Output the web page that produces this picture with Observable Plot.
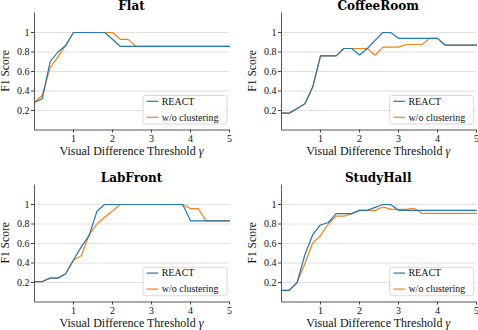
<!DOCTYPE html>
<html>
<head>
<meta charset="utf-8">
<script src="https://cdn.jsdelivr.net/npm/d3@7"></script>
<script src="https://cdn.jsdelivr.net/npm/@observablehq/plot@0.6"></script>
<style>
  html, body { margin: 0; padding: 0; background: #fff; }
  #wrap { position: relative; width: 478px; height: 330px; overflow: hidden; background: #fff; }
  #wrap svg { position: absolute; max-width: none; }
</style>
</head>
<body>
<div id="wrap"></div>
<script>
// ---- data ----
const gamma = [0, 0.2, 0.4, 0.6, 0.8, 1, 1.2, 1.4, 1.6, 1.8, 2, 2.2, 2.4, 2.6, 2.8, 3, 3.2, 3.4, 3.6, 3.8, 4, 4.2, 4.4, 4.6, 4.8, 5];

const titles = ["Flat", "CoffeeRoom", "LabFront", "StudyHall"];
const seriesNames = ["REACT", "w/o clustering"];
const xTicks = [1, 2, 3, 4, 5];
const yTicks = [0.2, 0.4, 0.6, 0.8, 1];
const xLabel = "Visual Difference Threshold ";
const xLabelSymbol = "γ";
const yLabel = "F1 Score";

const flatReact = [0.285, 0.32, 0.70, 0.80, 0.867, 1, 1, 1, 1, 1, 0.93, 0.857, 0.857, 0.857, 0.857, 0.857, 0.857, 0.857, 0.857, 0.857, 0.857, 0.857, 0.857, 0.857, 0.857, 0.857];
const flatWo    = [0.285, 0.357, 0.64, 0.75, 0.867, 1, 1, 1, 1, 1, 1, 0.93, 0.93, 0.857, 0.857, 0.857, 0.857, 0.857, 0.857, 0.857, 0.857, 0.857, 0.857, 0.857, 0.857, 0.857];

const coffeeReact = [0.173, 0.173, 0.22, 0.27, 0.44, 0.76, 0.76, 0.76, 0.836, 0.836, 0.77, 0.836, 0.92, 1, 1, 0.94, 0.94, 0.94, 0.94, 0.94, 0.94, 0.87, 0.87, 0.87, 0.87, 0.87];
const coffeeWo    = [0.173, 0.173, 0.22, 0.27, 0.44, 0.76, 0.76, 0.76, 0.836, 0.836, 0.836, 0.836, 0.767, 0.85, 0.85, 0.85, 0.877, 0.877, 0.877, 0.94, 0.94, 0.87, 0.87, 0.87, 0.87, 0.87];

const labReact = [0.21, 0.21, 0.245, 0.245, 0.29, 0.43, 0.565, 0.68, 0.93, 1, 1, 1, 1, 1, 1, 1, 1, 1, 1, 1, 0.833, 0.833, 0.833, 0.833, 0.833, 0.833];
const labWo    = [0.21, 0.21, 0.245, 0.245, 0.29, 0.43, 0.475, 0.69, 0.80, 0.87, 0.934, 1, 1, 1, 1, 1, 1, 1, 1, 1, 0.958, 0.958, 0.833, 0.833, 0.833, 0.833];

const studyReact = [0.12, 0.12, 0.2, 0.485, 0.69, 0.79, 0.815, 0.906, 0.906, 0.906, 0.94, 0.94, 0.97, 1, 1, 0.94, 0.94, 0.94, 0.94, 0.94, 0.94, 0.94, 0.94, 0.94, 0.94, 0.94];
const studyWo    = [0.12, 0.12, 0.2, 0.395, 0.605, 0.68, 0.80, 0.88, 0.88, 0.906, 0.94, 0.94, 0.94, 0.975, 0.95, 0.95, 0.95, 0.96, 0.91, 0.91, 0.91, 0.91, 0.91, 0.91, 0.91, 0.91];

const colors = ["#1f77b4", "#ff7f0e"];

// ---- layout ----
const serif = "'Liberation Serif', 'Times New Roman', serif";
const PW = 239, PH = 165, ML = 34, MR = 10, MT = 12.5, MB = 35.5;
const panels = [
  {title: titles[0], react: flatReact,   wo: flatWo,   left: 0,     top: 0},
  {title: titles[1], react: coffeeReact, wo: coffeeWo, left: 246.7, top: 0},
  {title: titles[2], react: labReact,    wo: labWo,    left: 0,     top: 171.8},
  {title: titles[3], react: studyReact,  wo: studyWo,  left: 246.7, top: 171.8}
];

const wrap = document.getElementById("wrap");
const fmt = d => d === 1 ? "1" : d3.format(".1f")(d);

for (const p of panels) {
  const chart = Plot.plot({
    width: PW, height: PH,
    marginLeft: ML, marginRight: MR, marginTop: MT, marginBottom: MB,
    x: {domain: [0, 5], label: null},
    y: {domain: [0, 1.2], label: null},
    style: {fontFamily: serif, fontSize: "10px", background: "transparent", color: "#111"},
    marks: [
      Plot.gridY(yTicks, {stroke: "#dcdcdc", strokeOpacity: 1, strokeWidth: 0.9}),
      Plot.line(gamma, {x: gamma, y: p.wo, stroke: colors[1], strokeWidth: 1.2}),
      Plot.line(gamma, {x: gamma, y: p.react, stroke: colors[0], strokeWidth: 1.2}),
      Plot.ruleX([0], {stroke: "#444", strokeWidth: 0.9}),
      Plot.ruleY([0], {stroke: "#444", strokeWidth: 0.9}),
      Plot.axisX(xTicks, {tickSize: 3, tickPadding: 1.5, stroke: "#444", fill: "#111", fontSize: 10}),
      Plot.axisY(yTicks, {tickSize: 3, tickPadding: 2, stroke: "#444", fill: "#111", fontSize: 10, tickFormat: fmt})
    ]
  });
  chart.style.left = p.left + "px";
  chart.style.top = p.top + "px";
  wrap.appendChild(chart);
}

// ---- overlay: titles, axis labels, legends ----
const ov = d3.select(wrap).append("svg")
  .attr("width", 478).attr("height", 330)
  .style("left", "0px").style("top", "0px");

for (const p of panels) {
  const ax = p.left + ML, ar = p.left + PW - MR;
  const pt = p.top + MT, pb = p.top + PH - MB;
  const cx = (ax + ar) / 2, cy = (pt + pb) / 2;

  ov.append("text")
    .attr("x", cx).attr("y", pt - 2.8)
    .attr("text-anchor", "middle")
    .style("font-family", "'DejaVu Serif', serif")
    .style("font-weight", "bold").style("font-size", "12px")
    .attr("fill", "#000")
    .text(p.title);

  const xl = ov.append("text")
    .attr("x", cx).attr("y", pb + 25.4)
    .attr("text-anchor", "middle")
    .style("font-family", serif).style("font-size", "12px")
    .attr("fill", "#111");
  xl.append("tspan").text(xLabel);
  xl.append("tspan").style("font-style", "italic").text(xLabelSymbol);

  ov.append("text")
    .attr("transform", `translate(${ax - 24.6},${cy}) rotate(-90)`)
    .attr("text-anchor", "middle")
    .style("font-family", serif).style("font-size", "11.6px")
    .attr("fill", "#111")
    .text(yLabel);

  // legend
  const lg = ov.append("g").attr("transform", `translate(${ax + 109},${pt + 83})`);
  lg.append("rect")
    .attr("x", 0).attr("y", 0).attr("width", 84).attr("height", 28.5)
    .attr("rx", 2.5).attr("fill", "rgba(255,255,255,0.85)")
    .attr("stroke", "#d4d4d4").attr("stroke-width", 0.9);
  seriesNames.forEach((name, i) => {
    const ry = 5.8 + i * 16;
    lg.append("line")
      .attr("x1", 3.7).attr("x2", 15.3).attr("y1", ry).attr("y2", ry)
      .attr("stroke", colors[i]).attr("stroke-width", 1.2);
    lg.append("text")
      .attr("x", 18.7).attr("y", ry + 3.4)
      .style("font-family", serif).style("font-size", "10px")
      .attr("fill", "#111")
      .text(name);
  });
}
</script>
</body>
</html>
